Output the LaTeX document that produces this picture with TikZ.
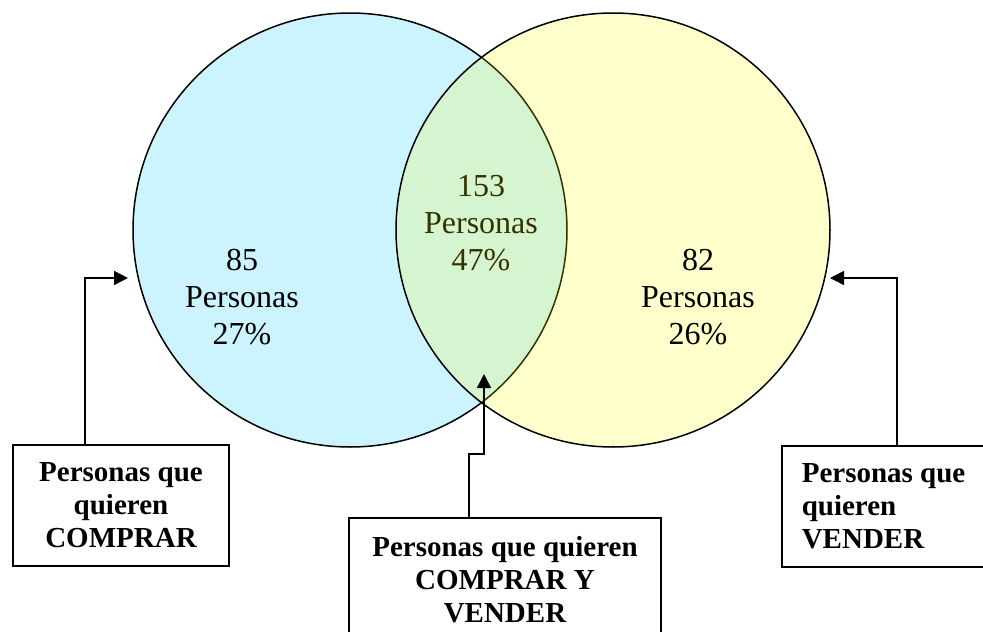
\documentclass[tikz,border=0pt]{standalone}
\usepackage{fontspec}
\setmainfont{Liberation Serif}
\usetikzlibrary{arrows.meta}

\definecolor{cianclaro}{RGB}{204,244,255}
\definecolor{amarclaro}{RGB}{255,255,204}
\definecolor{verdeclaro}{RGB}{213,245,208}
\definecolor{oliva}{RGB}{51,51,0}

\tikzset{
  conjunto/.style={circle, minimum size=434pt, inner sep=0pt, line width=1.5pt},
  cifra/.style={align=center, font=\fontsize{32}{37}\selectfont},
  caja/.style={draw, line width=1.6pt, fill=white, align=center,
    font=\fontsize{29}{33}\selectfont\bfseries, minimum height=121pt},
  flecha/.style={line width=1.5pt, -{Triangle[length=14pt,width=14pt]}},
}

\begin{document}
\begin{tikzpicture}[x=1pt, y=-1pt]
\useasboundingbox (0,0) rectangle (983,632);

% los dos conjuntos
\node[conjunto, fill=cianclaro, draw] (compra) at (350,230) {};
\node[conjunto, fill=amarclaro] (vende) at (613,230) {};
\begin{scope}
  \clip (compra.center) circle[radius=217pt];
  \fill[verdeclaro] (vende.center) circle[radius=217pt];
\end{scope}
\begin{scope}
  \clip (vende.center) circle[radius=217pt];
  \draw[oliva, line width=1.5pt] (compra.center) circle[radius=217pt];
\end{scope}
\draw[line width=1.5pt] (vende.center) circle[radius=217pt];

% cifras
\node[cifra] (ncompra) at (242,297) {85\\Personas\\27\%};
\node[cifra, text=oliva] (nambos) at (481,223) {153\\Personas\\47\%};
\node[cifra] (nvende) at (698,297) {82\\Personas\\26\%};

% cajas
\node[caja, minimum width=216pt] (bcompra) at (121,505.5) {Personas que\\quieren\\COMPRAR};
\node[caja, minimum width=312pt, minimum height=124pt] (bambos) at (505,580) {Personas que quieren\\COMPRAR Y\\VENDER};
\node[caja, align=flush left, anchor=north west, text width=200pt, inner xsep=20pt] (bvende) at (781,445) {Personas que\\quieren\\VENDER};

% flechas
\coordinate (tcompra) at (128,278);
\coordinate (tambos) at (484,374);
\coordinate (tvende) at (830,278);
\draw[flecha] (bcompra.north -| 85,0) |- (tcompra);
\draw[flecha] (bambos.north -| 469,0) |- (tambos |- 0,454) -- (tambos);
\draw[flecha] (bvende.north -| 897,0) |- (tvende);
\end{tikzpicture}
\end{document}
